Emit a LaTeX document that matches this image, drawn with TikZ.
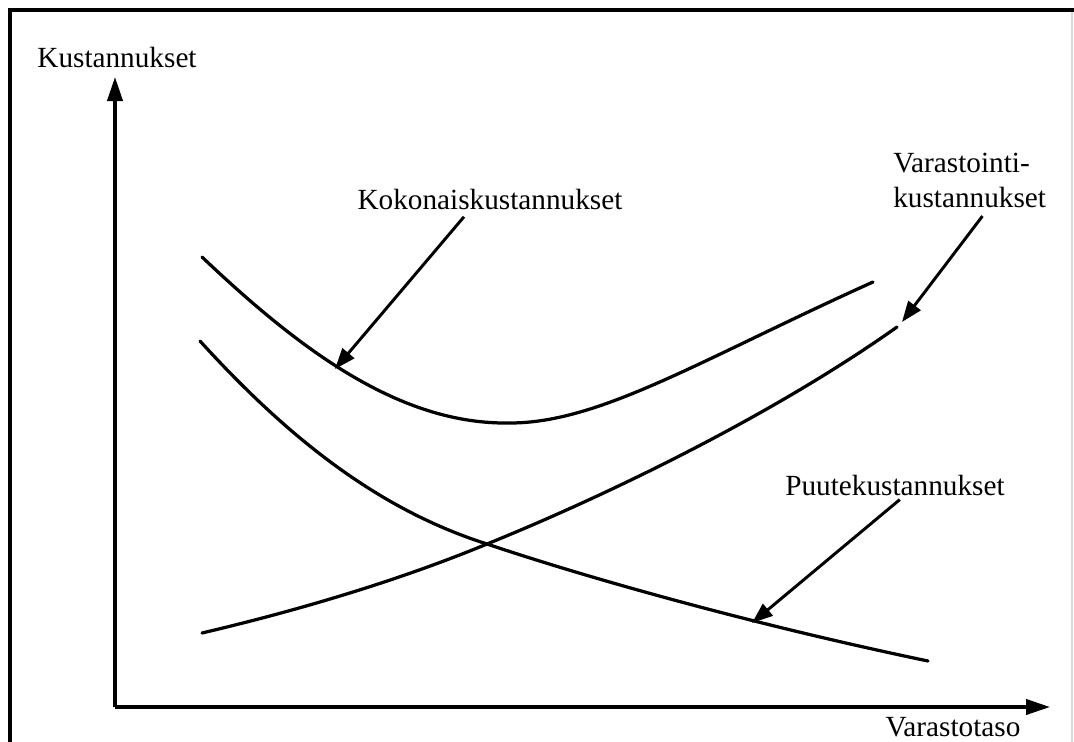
\documentclass[tikz,border=0pt]{standalone}
\usepackage{fontspec}
\setmainfont{Liberation Serif}
\usetikzlibrary{arrows.meta}

\begin{document}
\begin{tikzpicture}[x=0.025cm, y=-0.025cm,
    curve/.style={line width=2.3pt, line cap=round},
    axis/.style={line width=2.4pt, -{Triangle[length=0.6cm, width=0.38cm]}},
    pointer/.style={line width=2.1pt, -{Triangle[length=0.52cm, width=0.38cm]}},
    lbl/.style={font=\fontsize{20.8}{24.8}\selectfont, inner sep=0pt}]
\useasboundingbox (0,0) rectangle (1074,742);

%% frame
\draw[line width=2.6pt] (10,742) -- (10,10) -- (1074,10);
\draw[black!15, line width=1pt] (1072,12) -- (1072,742);

%% axes
\coordinate (origin) at (115,707);
\coordinate (ytip) at (115,77);
\coordinate (xtip) at (1050,707);
\draw[axis] (origin) -- (ytip);
\draw[axis] (origin) -- (xtip);
\node[lbl] (cost) at (117,57) {Kustannukset};
\node[lbl] (level) at (953,727) {Varastotaso};

%% curves
% total costs
\draw[curve] (202,257) .. controls (300,350) and (400,425) .. (510,423)
  .. controls (600,423) and (700,360) .. (873,282);
% shortage costs
\draw[curve] (200,341) .. controls (290,440) and (380,510) .. (487,544)
  .. controls (594,580) and (760,626) .. (928,661);
% holding costs
\draw[curve] (202,633) .. controls (300,610) and (400,580) .. (487,544)
  .. controls (620,490) and (780,410) .. (897,327);

\coordinate (total_pt) at (335,369);
\coordinate (short_pt) at (752,623);
\coordinate (hold_pt) at (902,322);

%% labels
\node[lbl] (total) at (490,199) {Kokonaiskustannukset};
\node[lbl, align=left, anchor=north west] (hold) at (893,153) {Varastointi-\\kustannukset};
\node[lbl] (short) at (895,485) {Puutekustannukset};

\draw[pointer] ([xshift=-0.65cm, yshift=-0.18cm]total.south) -- (total_pt);
\draw[pointer] ([xshift=0.32cm, yshift=-0.2cm]hold.south) -- (hold_pt);
\draw[pointer] ([xshift=0.12cm, yshift=-0.1cm]short.south) -- (short_pt);

\end{tikzpicture}
\end{document}
